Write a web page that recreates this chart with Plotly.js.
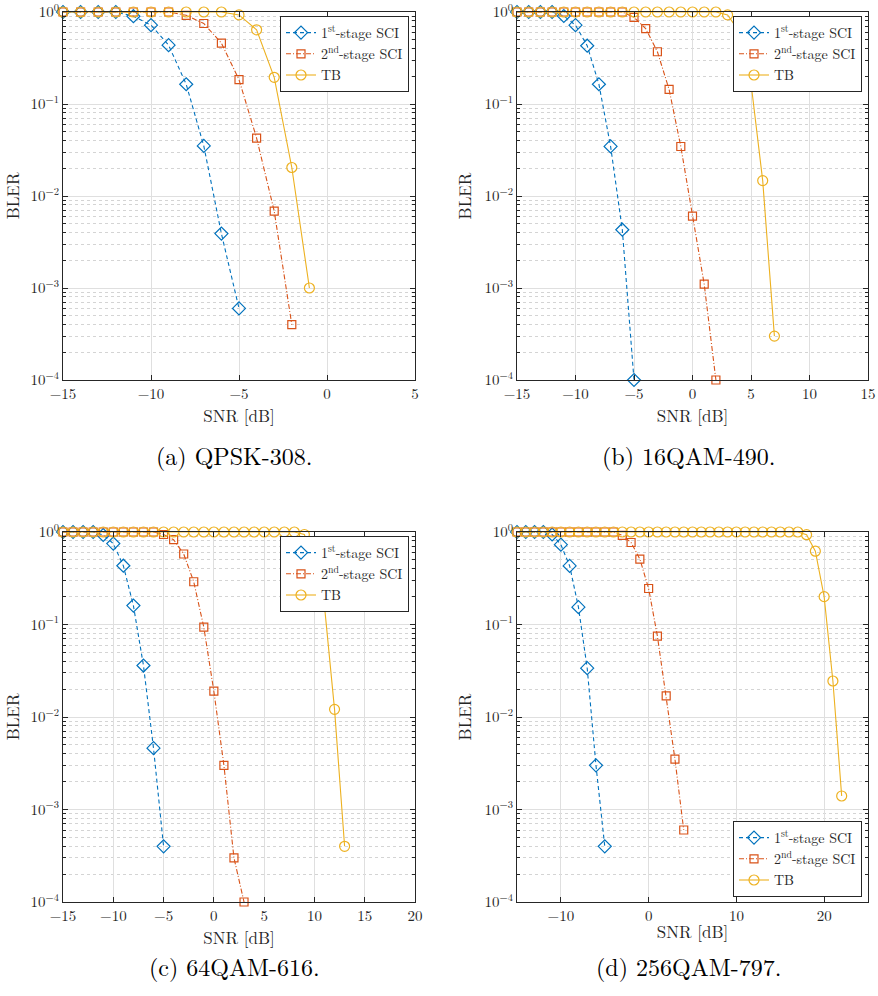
<!DOCTYPE html>
<html>
<head>
<meta charset="utf-8">
<script src="https://cdn.plot.ly/plotly-3.0.1.min.js"></script>
<style>html,body{margin:0;padding:0;background:#fff;}#chart{width:878px;height:996px;}</style>
</head>
<body>
<div id="chart"></div>
<script>
// ---------- data ----------
// (a) QPSK-308
var a_x1 = [-15,-14,-13,-12,-11,-10,-9,-8,-7,-6,-5];
var a_y1 = [1,1,1,1,0.9,0.72,0.436,0.164,0.035,0.0039,0.0006];
var a_x2 = [-15,-14,-13,-12,-11,-10,-9,-8,-7,-6,-5,-4,-3,-2];
var a_y2 = [1,1,1,1,1,1,1,0.92,0.75,0.458,0.184,0.0426,0.00685,0.0004];
var a_x3 = [-15,-14,-13,-12,-11,-10,-9,-8,-7,-6,-5,-4,-3,-2,-1];
var a_y3 = [1,1,1,1,1,1,1,1,1,1,0.93,0.64,0.195,0.0204,0.001];
// (b) 16QAM-490
var b_x1 = [-15,-14,-13,-12,-11,-10,-9,-8,-7,-6,-5];
var b_y1 = [1,1,1,1,0.905,0.72,0.43,0.164,0.0346,0.0043,0.0001];
var b_x2 = [-15,-14,-13,-12,-11,-10,-9,-8,-7,-6,-5,-4,-3,-2,-1,0,1,2];
var b_y2 = [1,1,1,1,1,1,1,1,1,1,0.875,0.66,0.37,0.144,0.0345,0.00605,0.0011,0.0001];
var b_x3 = [-15,-14,-13,-12,-11,-10,-9,-8,-7,-6,-5,-4,-3,-2,-1,0,1,2,3,4,5,6,7];
var b_y3 = [1,1,1,1,1,1,1,1,1,1,1,1,1,1,1,1,1,1,0.93,0.61,0.169,0.0147,0.0003];
// (c) 64QAM-616
var c_x1 = [-15,-14,-13,-12,-11,-10,-9,-8,-7,-6,-5];
var c_y1 = [1,1,1,1,0.928,0.75,0.432,0.16,0.036,0.0046,0.0004];
var c_x2 = [-15,-14,-13,-12,-11,-10,-9,-8,-7,-6,-5,-4,-3,-2,-1,0,1,2,3];
var c_y2 = [1,1,1,1,1,1,1,1,1,1,0.94,0.826,0.578,0.29,0.0935,0.019,0.003,0.0003,0.0001];
var c_x3 = [-15,-14,-13,-12,-11,-10,-9,-8,-7,-6,-5,-4,-3,-2,-1,0,1,2,3,4,5,6,7,8,9,10,11,12,13];
var c_y3 = [1,1,1,1,1,1,1,1,1,1,1,1,1,1,1,1,1,1,1,1,1,1,1,1,0.94,0.45,0.158,0.0121,0.0004];
// (d) 256QAM-797
var d_x1 = [-15,-14,-13,-12,-11,-10,-9,-8,-7,-6,-5];
var d_y1 = [1,1,1,1,0.94,0.73,0.43,0.154,0.0337,0.003,0.0004];
var d_x2 = [-15,-14,-13,-12,-11,-10,-9,-8,-7,-6,-5,-4,-3,-2,-1,0,1,2,3,4];
var d_y2 = [1,1,1,1,1,1,1,1,1,1,1,1,0.92,0.77,0.51,0.245,0.0748,0.0169,0.0035,0.0006];
var d_x3 = [-15,-14,-13,-12,-11,-10,-9,-8,-7,-6,-5,-4,-3,-2,-1,0,1,2,3,4,5,6,7,8,9,10,11,12,13,14,15,16,17,18,19,20,21,22];
var d_y3 = [1,1,1,1,1,1,1,1,1,1,1,1,1,1,1,1,1,1,1,1,1,1,1,1,1,1,1,1,1,1,1,1,1,0.935,0.62,0.2,0.0245,0.0014];

var seriesNames = ['1<sup>st</sup>-stage SCI', '2<sup>nd</sup>-stage SCI', 'TB'];
var captions = ['(a) QPSK-308.', '(b) 16QAM-490.', '(c) 64QAM-616.', '(d) 256QAM-797.'];
var yTickVals = [1, 0.1, 0.01, 0.001, 0.0001];
var yTickText = ['10<sup>0</sup>', '10<sup>\u22121</sup>', '10<sup>\u22122</sup>', '10<sup>\u22123</sup>', '10<sup>\u22124</sup>'];
var xRanges = [[-15, 5], [-15, 15], [-15, 20], [-15, 25]];
var xDticks = [5, 5, 5, 10];

// ---------- styling ----------
var FONT = 'Latin Modern Roman';
var colors = ['#0072BD', '#D95319', '#EDB120'];
var dashes = ['4px,3px', '5px,2px,1px,2px', 'solid'];
var symbols = ['diamond-open', 'square-open', 'circle-open'];
var msizes = [10, 8, 10];

var panels = [
  [[a_x1, a_y1], [a_x2, a_y2], [a_x3, a_y3]],
  [[b_x1, b_y1], [b_x2, b_y2], [b_x3, b_y3]],
  [[c_x1, c_y1], [c_x2, c_y2], [c_x3, c_y3]],
  [[d_x1, d_y1], [d_x2, d_y2], [d_x3, d_y3]]
];

var W = 878, H = 996;
var plotBoxes = [ // left, right, top, bottom in px
  [63, 415, 12, 380],
  [517, 868, 12, 380],
  [63, 415, 532, 902],
  [517, 868, 532, 902]
];

var traces = [];
var layout = {
  width: W, height: H,
  margin: {l: 0, r: 0, t: 0, b: 0},
  paper_bgcolor: '#ffffff',
  plot_bgcolor: '#ffffff',
  font: {family: FONT, size: 15, color: '#262626'},
  minusformat: '-',
  showlegend: true,
  annotations: []
};

panels.forEach(function (p, i) {
  var sfx = i === 0 ? '' : String(i + 1);
  var legName = 'legend' + sfx;
  p.forEach(function (s, k) {
    traces.push({
      x: s[0], y: s[1],
      type: 'scatter', mode: 'lines+markers',
      name: seriesNames[k],
      xaxis: 'x' + sfx, yaxis: 'y' + sfx,
      legend: legName,
      cliponaxis: false,
      line: {color: colors[k], width: 1.1, dash: dashes[k]},
      marker: {symbol: symbols[k], size: msizes[k], color: colors[k], line: {color: colors[k], width: 1.2}}
    });
  });
  var b = plotBoxes[i];
  var axCommon = {
    showline: true, linecolor: '#262626', linewidth: 1, mirror: 'ticks',
    ticks: 'inside', ticklen: 5, tickcolor: '#262626', tickwidth: 1,
    showgrid: true, gridcolor: '#dfdfdf', gridwidth: 1,
    zeroline: false, ticklabeloverflow: 'allow',
    tickfont: {family: FONT, size: 15, color: '#262626'}
  };
  layout['xaxis' + sfx] = Object.assign({}, axCommon, {
    domain: [b[0] / W, b[1] / W],
    anchor: 'y' + sfx,
    range: xRanges[i],
    dtick: xDticks[i], tick0: 0,
    title: {text: 'SNR [dB]', font: {family: FONT, size: 17, color: '#262626'}, standoff: 2}
  });
  layout['yaxis' + sfx] = Object.assign({}, axCommon, {
    domain: [1 - b[3] / H, 1 - b[2] / H],
    anchor: 'x' + sfx,
    type: 'log',
    range: [-4, 0],
    tickmode: 'array', tickvals: yTickVals, ticktext: yTickText,
    minor: {dtick: 'D1', showgrid: true, gridcolor: '#d4d4d4', griddash: 'dot', gridwidth: 1,
            ticks: 'inside', ticklen: 3, tickcolor: '#262626'},
    title: {text: 'BLER', font: {family: FONT, size: 17, color: '#262626'}, standoff: 8}
  });
  var legBase = {
    bgcolor: '#ffffff', bordercolor: '#262626', borderwidth: 1,
    font: {family: FONT, size: 14, color: '#262626'},
    tracegroupgap: 0, itemwidth: 30,
    xanchor: 'right', x: (b[1] - 6) / W
  };
  if (i === 3) {
    legBase.yanchor = 'bottom'; legBase.y = 1 - 897 / H;
  } else {
    legBase.yanchor = 'top'; legBase.y = 1 - (b[2] + 4) / H;
  }
  layout[legName] = legBase;
  var capX = (i % 2 === 0) ? 234 : 688;
  var capY = (i < 2) ? 455 : 966;
  layout.annotations.push({
    text: captions[i], xref: 'paper', yref: 'paper',
    x: capX / W, y: 1 - capY / H, xanchor: 'center', yanchor: 'middle',
    showarrow: false, font: {family: FONT, size: 24, color: '#000000'}
  });
});

Plotly.newPlot('chart', traces, layout, {staticPlot: true});
</script>
</body>
</html>
